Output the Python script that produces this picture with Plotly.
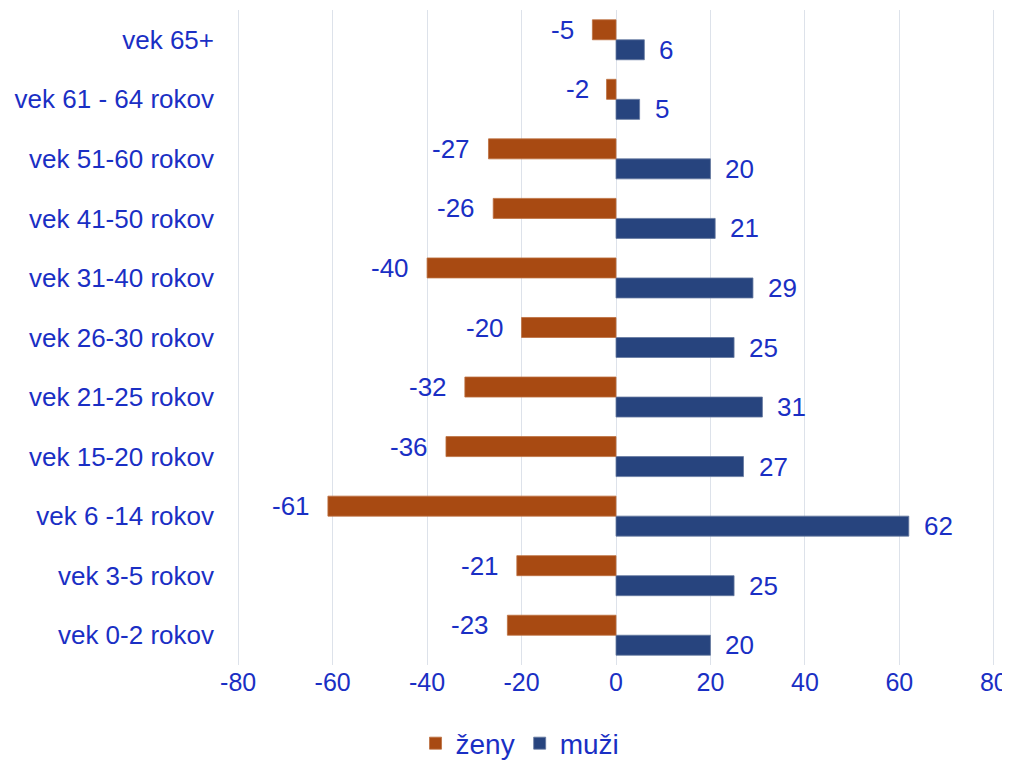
import plotly.graph_objects as go

categories = ["vek 0-2 rokov", "vek 3-5 rokov", "vek 6 -14 rokov", "vek 15-20 rokov",
              "vek 21-25 rokov", "vek 26-30 rokov", "vek 31-40 rokov", "vek 41-50 rokov",
              "vek 51-60 rokov", "vek 61 - 64 rokov", "vek 65+"]
zeny = [-23, -21, -61, -36, -32, -20, -40, -26, -27, -2, -5]
muzi = [20, 25, 62, 27, 31, 25, 29, 21, 20, 5, 6]
tick_vals = [-80, -60, -40, -20, 0, 20, 40, 60, 80]
tick_text = ["-80", "-60", "-40", "-20", "0", "20", "40", "60", "80"]

FONT = "Liberation Sans, Arial, sans-serif"
FS = 26
TXT = "#1A2FC4"
ORANGE = "#A84A12"
BLUE = "#27447E"

fig = go.Figure()
fig.add_trace(go.Bar(y=categories, x=muzi, orientation="h", name="muži",
                     marker=dict(color=BLUE, line=dict(width=0.8, color="#6478A0")),
                     legendrank=2))
fig.add_trace(go.Bar(y=categories, x=zeny, orientation="h", name="ženy",
                     marker=dict(color=ORANGE, line=dict(width=0.8, color="#BC7040")),
                     legendrank=1))

annotations = []
for c, z, m in zip(categories, zeny, muzi):
    annotations.append(dict(x=z, y=c, xref="x", yref="y", text=str(z), showarrow=False,
                            xanchor="right", xshift=-16, yshift=10,
                            font=dict(family=FONT, size=FS, color=TXT)))
    annotations.append(dict(x=m, y=c, xref="x", yref="y", text=str(m), showarrow=False,
                            xanchor="left", xshift=13, yshift=-10,
                            font=dict(family=FONT, size=FS, color=TXT)))

fig.update_layout(
    width=1002, height=752,
    margin=dict(l=229, r=15, t=2, b=95),
    plot_bgcolor="white", paper_bgcolor="white",
    barmode="group", bargap=0.328, bargroupgap=0,
    font=dict(family=FONT, size=FS, color=TXT),
    annotations=annotations,
    showlegend=True,
    legend=dict(orientation="h", xref="container", yref="container",
                x=0.511, xanchor="center", y=0.022, yanchor="middle",
                font=dict(family=FONT, size=28, color=TXT)),
    xaxis=dict(range=[-80.25, 80.25], tickvals=tick_vals, ticktext=tick_text,
               showgrid=True, gridcolor="#DDE2EA", automargin=False,
               gridwidth=1.3, zeroline=False, showline=False, ticks="",
               tickfont=dict(family=FONT, size=25, color=TXT)),
    yaxis=dict(showgrid=False, zeroline=False, showline=False, ticks="",
               ticklabelstandoff=22, automargin=False,
               tickfont=dict(family=FONT, size=FS, color=TXT)),
)

fig.write_html("out.html")
